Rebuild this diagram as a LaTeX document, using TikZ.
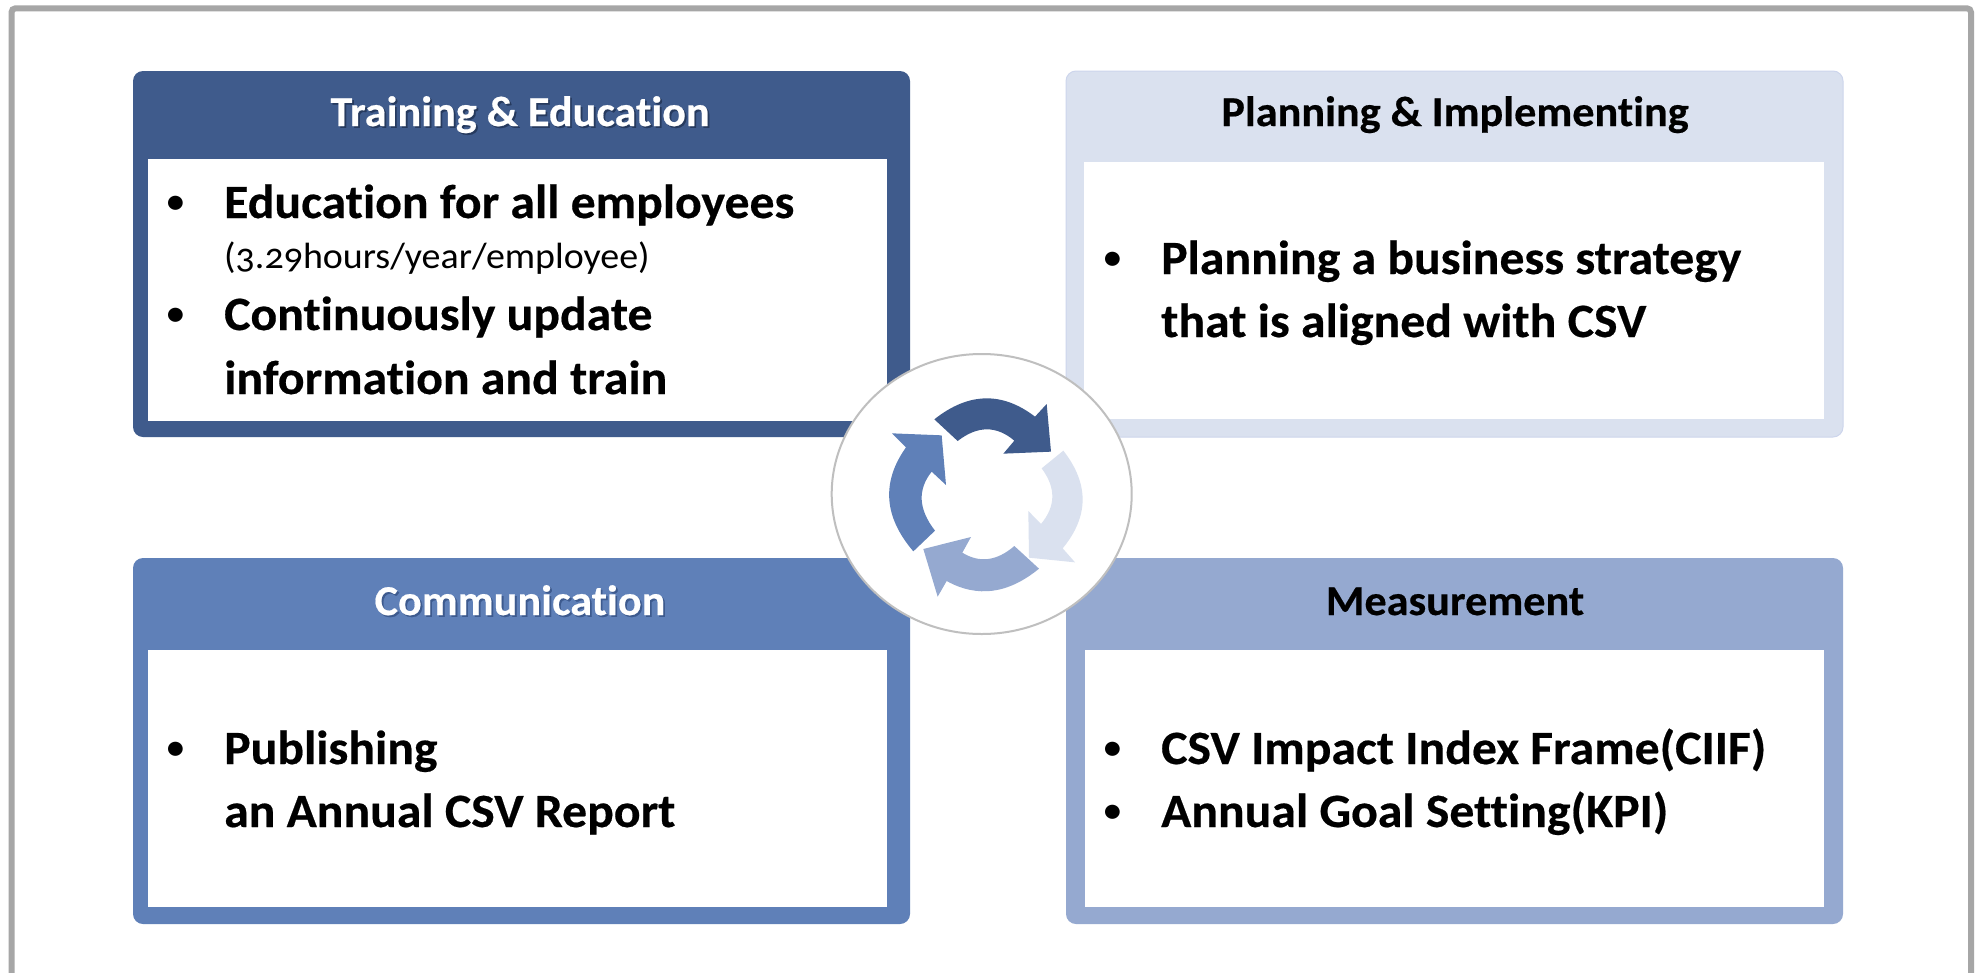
\documentclass[tikz,border=0pt]{standalone}
\usepackage{fontspec}
\setmainfont[Numbers=OldStyle,Ligatures=NoCommon,FakeStretch=1.04,BoldFeatures={FakeBold=0.4}]{Carlito}
\definecolor{cdark}{HTML}{3F5B8C}
\definecolor{cblue}{HTML}{5F80B8}
\definecolor{cmid}{HTML}{95A9D0}
\definecolor{clight}{HTML}{DAE1EF}
\definecolor{cedge}{HTML}{CDD5EC}
\definecolor{cframe}{HTML}{A6A6A6}
\definecolor{cring}{HTML}{BFBFBF}
\definecolor{shadA}{HTML}{263A5E}
\definecolor{shadB}{HTML}{3D5A8E}
\newcommand{\shadowed}[2]{\leavevmode\rlap{\kern1.8pt\raisebox{-1.8pt}{\color{#1}#2}}#2}
\newcommand{\bul}[1]{\leavevmode\llap{\fontsize{40pt}{40pt}\mdseries\raisebox{3.5pt}{•}\hspace{#1}}}
\tikzset{
  x=1pt,y=-1pt,
  outerbox/.style={rounded corners=10pt},
  innerbox/.style={fill=white},
  head/.style={font=\fontsize{42.5pt}{42.5pt}\bfseries,anchor=base,inner sep=0pt},
  body/.style={font=\fontsize{47.8pt}{47.8pt}\bfseries,anchor=base west,inner sep=0pt,text=black},
  small/.style={font=\fontsize{36.5pt}{36.5pt}\selectfont,anchor=base west,inner sep=0pt,text=black},
  zoomed/.style={shift={(800,330)},x=0.33333pt,y=-0.33333pt},
}
\begin{document}
\begin{tikzpicture}
\useasboundingbox (0,0) rectangle (1983,972);
\clip (0,0) rectangle (1983,972);
\fill[white] (0,0) rectangle (1983,972);
\draw[cframe,line width=6pt,rounded corners=4pt] (11.5,8.3) rectangle (1971,1010);

% boxes
\fill[cdark,outerbox] (133,71) rectangle (910,437);
\fill[innerbox] (148,159) rectangle (887,421);
\filldraw[fill=clight,draw=cedge,line width=1pt,outerbox] (1066,71) rectangle (1843,437);
\fill[innerbox] (1084,162) rectangle (1824,419);
\fill[cblue,outerbox] (133,558) rectangle (910,924);
\fill[innerbox] (148,650) rectangle (887,907);
\fill[cmid,outerbox] (1066,558) rectangle (1843,924);
\fill[innerbox] (1085,650) rectangle (1824,907);

% centre
\draw[cring,line width=2pt,fill=white] (981.7,494) ellipse [x radius=150,y radius=140];
\begin{scope}[zoomed]
\fill[cdark] (403,268) .. controls (505,187) and (606,184) .. (705,260) -- (740,222) -- (753,365) -- (610,371) -- (643,332) .. controls (589,286) and (532,287) .. (473,333) -- cycle;
\fill[clight] (790,362) .. controls (868,462) and (867,559) .. (788,655) -- (825,697) -- (687,683) -- (685,543) -- (723,582) .. controls (768,528) and (768,473) .. (725,415) -- cycle;
\fill[cmid] (717,716) .. controls (624,792) and (532,804) .. (440,753) -- (413,800) -- (370,657) -- (513,621) -- (487,668) .. controls (539,700) and (591,693) .. (643,648) -- cycle;
\fill[cblue] (340,664) .. controls (251,560) and (244,456) .. (318,352) -- (276,310) -- (425,316) -- (438,465) -- (395,425) .. controls (352,479) and (355,538) .. (405,602) -- cycle;
\end{scope}

% headers
\node[head,text=white] (h1) at (520,126) {\shadowed{shadA}{Training \& Education}};
\node[head,text=black] (h2) at (1455,126) {Planning \& Implementing};
\node[head,text=white] (h3) at (520,615) {\shadowed{shadB}{Communication}};
\node[head,text=black] (h4) at (1455,615) {Measurement};

% texts
\node[body] (t1) at (224,218) {\bul{38pt}Education for all employees};
\node[small] (t2) at (224,268) {(3.29hours/year/employee)};
\node[body] (t3) at (224,330) {\bul{38pt}Continuously update};
\node[body] (t4) at (224,394) {information and train};
\node[body] (t5) at (1161,274) {\bul{38pt}Planning a business strategy};
\node[body] (t6) at (1161,337) {that is aligned with CSV};
\node[body] (t7) at (224,764) {\bul{38pt}Publishing};
\node[body] (t8) at (224,827) {an Annual CSV Report};
\node[body] (t9) at (1161,764) {\bul{38pt}CSV Impact Index Frame(CIIF)};
\node[body] (t10) at (1161,827) {\bul{38pt}Annual Goal Setting(KPI)};
\end{tikzpicture}
\end{document}
